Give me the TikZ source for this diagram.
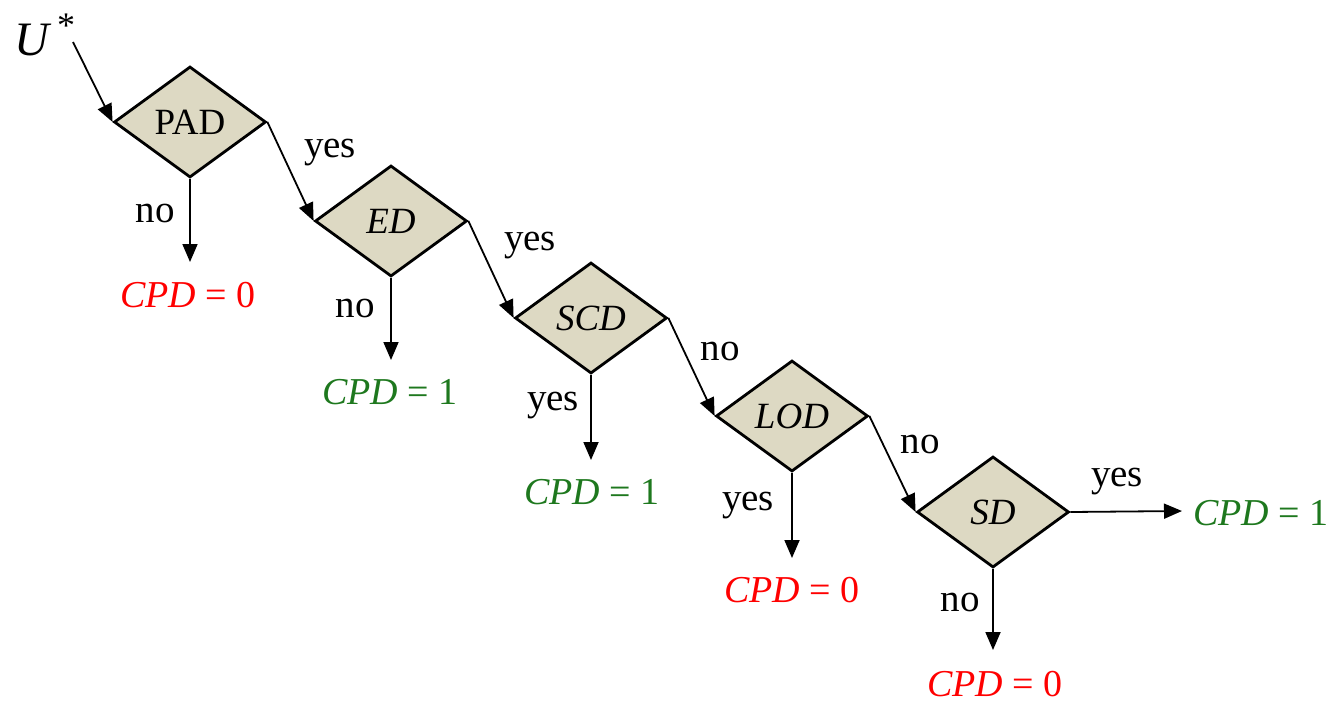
\documentclass[tikz,border=0pt]{standalone}
\usepackage{fontspec}
\setmainfont{Liberation Serif}
\usetikzlibrary{shapes.geometric,arrows.meta}
\definecolor{dfill}{RGB}{221,217,195}
\definecolor{cpdred}{RGB}{255,0,0}
\definecolor{cpdgreen}{RGB}{30,120,30}
\begin{document}
\begin{tikzpicture}[x=0.5pt,y=-0.5pt,
  dec/.style={diamond,draw=black,fill=dfill,line width=1.4pt,minimum width=76pt,minimum height=55.5pt,inner sep=0pt,font=\fontsize{18.5}{22}\selectfont},
  lbl/.style={font=\fontsize{19.5}{22}\selectfont,inner sep=0pt},
  res/.style={font=\fontsize{19}{22}\selectfont,inner sep=0pt},
  arr/.style={-{Triangle[length=9pt,width=7.5pt]},line width=0.9pt}]
\useasboundingbox (0,0) rectangle (1334,702);

% decision diamonds
\node[dec] (pad) at (190,122) {PAD};
\node[dec] (ed)  at (391,221) {\itshape ED};
\node[dec] (scd) at (591,318) {\itshape SCD};
\node[dec] (lod) at (792,416) {\itshape LOD};
\node[dec] (sd)  at (993,512) {\itshape SD};

% input
\node[lbl,font=\fontsize{24}{26}\selectfont,anchor=base west] (u) at (14,55) {\itshape U\kern4pt\raisebox{9pt}{\upshape\fontsize{18}{18}\selectfont *}};
\coordinate (ustart) at (73,42);
\draw[arr] (ustart) -- (pad.west);

% chain connectors
\draw[arr] (pad.east) -- (ed.west);
\draw[arr] (ed.east) -- (scd.west);
\draw[arr] (scd.east) -- (lod.west);
\draw[arr] (lod.east) -- (sd.west);

% result nodes
\node[res,text=cpdred]   (r1) at (188,295) {\itshape CPD\upshape\ = 0};
\node[res,text=cpdgreen] (r2) at (390,392) {\itshape CPD\upshape\ = 1};
\node[res,text=cpdgreen] (r3) at (592,492) {\itshape CPD\upshape\ = 1};
\node[res,text=cpdred]   (r4) at (792,590) {\itshape CPD\upshape\ = 0};
\node[res,text=cpdred]   (r5) at (995,684) {\itshape CPD\upshape\ = 0};
\node[res,text=cpdgreen] (r6) at (1261,513) {\itshape CPD\upshape\ = 1};

% down / side arrows
\draw[arr] (pad.south) -- (pad.south |- 0,262);
\draw[arr] (ed.south) -- (ed.south |- 0,360);
\draw[arr] (scd.south) -- (scd.south |- 0,460);
\draw[arr] (lod.south) -- (lod.south |- 0,558);
\draw[arr] (sd.south) -- (sd.south |- 0,650);
\draw[arr] (sd.east) -- (1182,511);

% branch labels
\node[lbl] (l1) at (155,213) {no};
\node[lbl] (l2) at (330,153) {yes};
\node[lbl] (l3) at (355,308) {no};
\node[lbl] (l4) at (530,246) {yes};
\node[lbl] (l5) at (553,406) {yes};
\node[lbl] (l6) at (720,351) {no};
\node[lbl] (l7) at (748,506) {yes};
\node[lbl] (l8) at (920,444) {no};
\node[lbl] (l9) at (1117,482) {yes};
\node[lbl] (l10) at (960,602) {no};
\end{tikzpicture}
\end{document}
